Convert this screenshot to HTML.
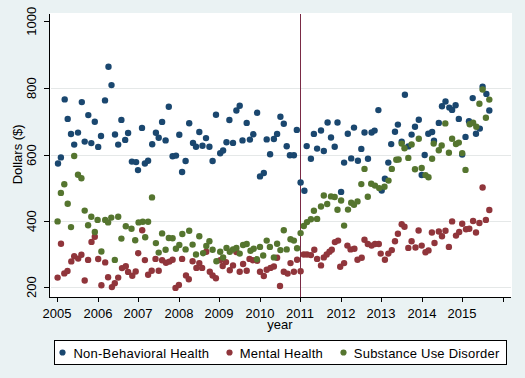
<!DOCTYPE html>
<html><head><meta charset="utf-8"><style>
html,body{margin:0;padding:0;width:525px;height:378px;overflow:hidden;background:#EAF2F3}
svg{display:block}
text{font-family:"Liberation Sans",sans-serif;font-size:13px;fill:#000}
</style></head><body>
<svg width="525" height="378" viewBox="0 0 525 378">
<rect x="0" y="0" width="525" height="378" fill="#EAF2F3"/>
<rect x="50" y="13" width="462" height="284" fill="#FFFFFF"/>
<line x1="51" x2="511" y1="88.5" y2="88.5" stroke="#E5E8E8" stroke-width="1"/>
<line x1="51" x2="511" y1="155.5" y2="155.5" stroke="#E5E8E8" stroke-width="1"/>
<line x1="51" x2="511" y1="221.5" y2="221.5" stroke="#E5E8E8" stroke-width="1"/>
<line x1="51" x2="511" y1="287.5" y2="287.5" stroke="#E5E8E8" stroke-width="1"/>
<line x1="300.5" x2="300.5" y1="14" y2="297" stroke="#7A2A45" stroke-width="1"/>
<g fill="#1A476F"><circle cx="108.5" cy="66.7" r="3.2"/>
<circle cx="111.5" cy="85.1" r="3.2"/>
<circle cx="64.7" cy="99.4" r="3.2"/>
<circle cx="81.8" cy="102.1" r="3.2"/>
<circle cx="105.0" cy="100.4" r="3.2"/>
<circle cx="67.7" cy="118.9" r="3.2"/>
<circle cx="88.3" cy="115.1" r="3.2"/>
<circle cx="94.8" cy="121.8" r="3.2"/>
<circle cx="121.4" cy="119.9" r="3.2"/>
<circle cx="142.0" cy="127.9" r="3.2"/>
<circle cx="71.0" cy="134.0" r="3.2"/>
<circle cx="78.0" cy="132.6" r="3.2"/>
<circle cx="101.0" cy="136.0" r="3.2"/>
<circle cx="115.0" cy="134.5" r="3.2"/>
<circle cx="128.1" cy="133.0" r="3.2"/>
<circle cx="74.2" cy="144.6" r="3.2"/>
<circle cx="84.7" cy="141.6" r="3.2"/>
<circle cx="91.3" cy="143.1" r="3.2"/>
<circle cx="98.2" cy="146.9" r="3.2"/>
<circle cx="118.2" cy="144.6" r="3.2"/>
<circle cx="125.2" cy="139.9" r="3.2"/>
<circle cx="60.9" cy="157.4" r="3.2"/>
<circle cx="58.0" cy="163.5" r="3.2"/>
<circle cx="131.9" cy="161.6" r="3.2"/>
<circle cx="136.1" cy="162.1" r="3.2"/>
<circle cx="138.0" cy="170.1" r="3.2"/>
<circle cx="144.9" cy="163.5" r="3.2"/>
<circle cx="148.1" cy="160.8" r="3.2"/>
<circle cx="168.8" cy="106.7" r="3.2"/>
<circle cx="239.7" cy="105.7" r="3.2"/>
<circle cx="236.4" cy="110.5" r="3.2"/>
<circle cx="216.0" cy="114.7" r="3.2"/>
<circle cx="229.4" cy="120.0" r="3.2"/>
<circle cx="162.1" cy="121.9" r="3.2"/>
<circle cx="189.2" cy="123.2" r="3.2"/>
<circle cx="155.9" cy="132.8" r="3.2"/>
<circle cx="158.7" cy="137.7" r="3.2"/>
<circle cx="165.6" cy="140.4" r="3.2"/>
<circle cx="152.2" cy="144.2" r="3.2"/>
<circle cx="179.3" cy="134.7" r="3.2"/>
<circle cx="199.3" cy="132.0" r="3.2"/>
<circle cx="206.0" cy="138.1" r="3.2"/>
<circle cx="193.0" cy="142.9" r="3.2"/>
<circle cx="196.0" cy="146.7" r="3.2"/>
<circle cx="202.5" cy="145.7" r="3.2"/>
<circle cx="209.4" cy="146.7" r="3.2"/>
<circle cx="226.5" cy="142.3" r="3.2"/>
<circle cx="233.0" cy="142.9" r="3.2"/>
<circle cx="242.5" cy="140.4" r="3.2"/>
<circle cx="220.2" cy="153.3" r="3.2"/>
<circle cx="223.1" cy="150.5" r="3.2"/>
<circle cx="172.6" cy="156.2" r="3.2"/>
<circle cx="176.0" cy="155.6" r="3.2"/>
<circle cx="185.6" cy="161.0" r="3.2"/>
<circle cx="212.6" cy="161.0" r="3.2"/>
<circle cx="182.1" cy="172.0" r="3.2"/>
<circle cx="257.1" cy="112.8" r="3.2"/>
<circle cx="246.7" cy="122.9" r="3.2"/>
<circle cx="249.9" cy="139.6" r="3.2"/>
<circle cx="253.3" cy="134.3" r="3.2"/>
<circle cx="266.7" cy="139.4" r="3.2"/>
<circle cx="273.9" cy="139.0" r="3.2"/>
<circle cx="277.1" cy="133.9" r="3.2"/>
<circle cx="280.4" cy="116.8" r="3.2"/>
<circle cx="283.8" cy="123.8" r="3.2"/>
<circle cx="296.8" cy="129.9" r="3.2"/>
<circle cx="286.7" cy="146.3" r="3.2"/>
<circle cx="270.1" cy="154.3" r="3.2"/>
<circle cx="289.9" cy="155.2" r="3.2"/>
<circle cx="293.9" cy="155.2" r="3.2"/>
<circle cx="306.7" cy="146.1" r="3.2"/>
<circle cx="310.9" cy="158.7" r="3.2"/>
<circle cx="313.9" cy="133.9" r="3.2"/>
<circle cx="321.0" cy="130.5" r="3.2"/>
<circle cx="317.1" cy="148.6" r="3.2"/>
<circle cx="323.8" cy="151.0" r="3.2"/>
<circle cx="327.6" cy="122.5" r="3.2"/>
<circle cx="331.0" cy="137.5" r="3.2"/>
<circle cx="334.7" cy="146.7" r="3.2"/>
<circle cx="337.5" cy="122.5" r="3.2"/>
<circle cx="260.0" cy="176.4" r="3.2"/>
<circle cx="263.8" cy="173.0" r="3.2"/>
<circle cx="300.6" cy="182.5" r="3.2"/>
<circle cx="304.4" cy="190.7" r="3.2"/>
<circle cx="341.1" cy="191.9" r="3.2"/>
<circle cx="404.9" cy="94.7" r="3.2"/>
<circle cx="378.4" cy="110.1" r="3.2"/>
<circle cx="354.0" cy="127.6" r="3.2"/>
<circle cx="397.9" cy="124.6" r="3.2"/>
<circle cx="418.8" cy="119.7" r="3.2"/>
<circle cx="415.0" cy="126.7" r="3.2"/>
<circle cx="347.8" cy="133.7" r="3.2"/>
<circle cx="364.5" cy="132.5" r="3.2"/>
<circle cx="371.6" cy="132.5" r="3.2"/>
<circle cx="374.6" cy="130.6" r="3.2"/>
<circle cx="395.0" cy="131.8" r="3.2"/>
<circle cx="411.6" cy="134.6" r="3.2"/>
<circle cx="428.3" cy="133.7" r="3.2"/>
<circle cx="432.1" cy="132.0" r="3.2"/>
<circle cx="361.3" cy="148.9" r="3.2"/>
<circle cx="391.2" cy="144.1" r="3.2"/>
<circle cx="401.7" cy="141.7" r="3.2"/>
<circle cx="408.3" cy="146.4" r="3.2"/>
<circle cx="344.1" cy="162.6" r="3.2"/>
<circle cx="351.2" cy="158.4" r="3.2"/>
<circle cx="357.9" cy="160.7" r="3.2"/>
<circle cx="368.0" cy="158.8" r="3.2"/>
<circle cx="388.3" cy="162.6" r="3.2"/>
<circle cx="424.7" cy="155.0" r="3.2"/>
<circle cx="384.9" cy="178.7" r="3.2"/>
<circle cx="421.7" cy="175.0" r="3.2"/>
<circle cx="434.0" cy="140.7" r="3.2"/>
<circle cx="381.7" cy="190.6" r="3.2"/>
<circle cx="482.6" cy="86.7" r="3.2"/>
<circle cx="486.4" cy="93.9" r="3.2"/>
<circle cx="472.7" cy="98.1" r="3.2"/>
<circle cx="489.3" cy="110.5" r="3.2"/>
<circle cx="445.5" cy="101.5" r="3.2"/>
<circle cx="442.0" cy="106.3" r="3.2"/>
<circle cx="449.3" cy="107.6" r="3.2"/>
<circle cx="452.1" cy="109.9" r="3.2"/>
<circle cx="455.6" cy="105.3" r="3.2"/>
<circle cx="458.8" cy="118.9" r="3.2"/>
<circle cx="438.8" cy="122.9" r="3.2"/>
<circle cx="469.0" cy="121.2" r="3.2"/>
<circle cx="479.8" cy="128.6" r="3.2"/>
<circle cx="476.0" cy="133.7" r="3.2"/>
<circle cx="465.5" cy="136.9" r="3.2"/>
<circle cx="462.2" cy="154.6" r="3.2"/></g>
<g fill="#90353B"><circle cx="142.2" cy="230.3" r="3.2"/>
<circle cx="94.8" cy="236.8" r="3.2"/>
<circle cx="91.5" cy="241.9" r="3.2"/>
<circle cx="61.0" cy="243.7" r="3.2"/>
<circle cx="57.6" cy="277.6" r="3.2"/>
<circle cx="64.3" cy="273.4" r="3.2"/>
<circle cx="67.5" cy="271.0" r="3.2"/>
<circle cx="71.3" cy="261.4" r="3.2"/>
<circle cx="74.2" cy="256.3" r="3.2"/>
<circle cx="78.2" cy="258.6" r="3.2"/>
<circle cx="81.4" cy="254.8" r="3.2"/>
<circle cx="88.1" cy="259.9" r="3.2"/>
<circle cx="84.7" cy="280.5" r="3.2"/>
<circle cx="98.2" cy="259.0" r="3.2"/>
<circle cx="105.2" cy="262.4" r="3.2"/>
<circle cx="101.4" cy="285.2" r="3.2"/>
<circle cx="108.1" cy="277.2" r="3.2"/>
<circle cx="111.9" cy="287.1" r="3.2"/>
<circle cx="114.8" cy="283.3" r="3.2"/>
<circle cx="118.2" cy="277.6" r="3.2"/>
<circle cx="122.0" cy="268.1" r="3.2"/>
<circle cx="125.8" cy="266.2" r="3.2"/>
<circle cx="128.1" cy="271.9" r="3.2"/>
<circle cx="132.3" cy="275.7" r="3.2"/>
<circle cx="135.7" cy="271.5" r="3.2"/>
<circle cx="138.2" cy="253.2" r="3.2"/>
<circle cx="144.9" cy="260.1" r="3.2"/>
<circle cx="148.1" cy="274.8" r="3.2"/>
<circle cx="155.5" cy="258.9" r="3.2"/>
<circle cx="162.1" cy="260.2" r="3.2"/>
<circle cx="166.0" cy="262.7" r="3.2"/>
<circle cx="169.4" cy="261.6" r="3.2"/>
<circle cx="172.6" cy="259.7" r="3.2"/>
<circle cx="182.1" cy="258.9" r="3.2"/>
<circle cx="151.7" cy="270.7" r="3.2"/>
<circle cx="158.7" cy="270.7" r="3.2"/>
<circle cx="186.0" cy="275.5" r="3.2"/>
<circle cx="188.8" cy="279.3" r="3.2"/>
<circle cx="175.5" cy="287.9" r="3.2"/>
<circle cx="178.9" cy="285.0" r="3.2"/>
<circle cx="192.6" cy="261.2" r="3.2"/>
<circle cx="199.3" cy="263.1" r="3.2"/>
<circle cx="196.4" cy="267.9" r="3.2"/>
<circle cx="202.1" cy="267.9" r="3.2"/>
<circle cx="206.3" cy="251.7" r="3.2"/>
<circle cx="209.8" cy="271.7" r="3.2"/>
<circle cx="212.6" cy="275.5" r="3.2"/>
<circle cx="215.9" cy="278.3" r="3.2"/>
<circle cx="220.2" cy="260.2" r="3.2"/>
<circle cx="226.0" cy="262.1" r="3.2"/>
<circle cx="222.7" cy="266.0" r="3.2"/>
<circle cx="229.8" cy="270.3" r="3.2"/>
<circle cx="233.0" cy="265.4" r="3.2"/>
<circle cx="236.4" cy="252.0" r="3.2"/>
<circle cx="239.7" cy="271.7" r="3.2"/>
<circle cx="243.1" cy="264.0" r="3.2"/>
<circle cx="246.7" cy="270.7" r="3.2"/>
<circle cx="249.5" cy="258.9" r="3.2"/>
<circle cx="253.0" cy="260.2" r="3.2"/>
<circle cx="257.1" cy="260.8" r="3.2"/>
<circle cx="260.0" cy="271.7" r="3.2"/>
<circle cx="263.8" cy="276.0" r="3.2"/>
<circle cx="266.7" cy="269.8" r="3.2"/>
<circle cx="270.5" cy="267.9" r="3.2"/>
<circle cx="273.9" cy="266.5" r="3.2"/>
<circle cx="277.1" cy="257.8" r="3.2"/>
<circle cx="280.0" cy="286.0" r="3.2"/>
<circle cx="283.8" cy="271.7" r="3.2"/>
<circle cx="287.6" cy="273.6" r="3.2"/>
<circle cx="290.5" cy="263.1" r="3.2"/>
<circle cx="293.9" cy="271.7" r="3.2"/>
<circle cx="297.1" cy="259.7" r="3.2"/>
<circle cx="300.6" cy="271.3" r="3.2"/>
<circle cx="303.8" cy="254.5" r="3.2"/>
<circle cx="307.0" cy="254.5" r="3.2"/>
<circle cx="310.9" cy="255.1" r="3.2"/>
<circle cx="314.3" cy="249.8" r="3.2"/>
<circle cx="317.1" cy="258.9" r="3.2"/>
<circle cx="321.0" cy="265.4" r="3.2"/>
<circle cx="323.8" cy="257.4" r="3.2"/>
<circle cx="326.7" cy="254.5" r="3.2"/>
<circle cx="329.5" cy="251.7" r="3.2"/>
<circle cx="331.8" cy="249.8" r="3.2"/>
<circle cx="334.9" cy="242.1" r="3.2"/>
<circle cx="338.1" cy="240.6" r="3.2"/>
<circle cx="340.2" cy="266.7" r="3.2"/>
<circle cx="401.7" cy="224.3" r="3.2"/>
<circle cx="404.5" cy="226.8" r="3.2"/>
<circle cx="397.9" cy="233.7" r="3.2"/>
<circle cx="418.6" cy="230.5" r="3.2"/>
<circle cx="431.9" cy="232.5" r="3.2"/>
<circle cx="364.5" cy="239.7" r="3.2"/>
<circle cx="347.4" cy="245.6" r="3.2"/>
<circle cx="350.6" cy="249.4" r="3.2"/>
<circle cx="354.4" cy="248.8" r="3.2"/>
<circle cx="344.1" cy="263.1" r="3.2"/>
<circle cx="357.5" cy="259.7" r="3.2"/>
<circle cx="361.7" cy="257.8" r="3.2"/>
<circle cx="367.8" cy="244.0" r="3.2"/>
<circle cx="371.6" cy="245.6" r="3.2"/>
<circle cx="375.0" cy="244.0" r="3.2"/>
<circle cx="378.8" cy="244.0" r="3.2"/>
<circle cx="380.7" cy="253.6" r="3.2"/>
<circle cx="384.9" cy="259.7" r="3.2"/>
<circle cx="388.3" cy="253.6" r="3.2"/>
<circle cx="391.8" cy="250.1" r="3.2"/>
<circle cx="395.0" cy="241.2" r="3.2"/>
<circle cx="408.3" cy="247.9" r="3.2"/>
<circle cx="411.6" cy="241.2" r="3.2"/>
<circle cx="415.5" cy="247.5" r="3.2"/>
<circle cx="421.7" cy="245.6" r="3.2"/>
<circle cx="425.5" cy="252.3" r="3.2"/>
<circle cx="428.5" cy="250.4" r="3.2"/>
<circle cx="434.5" cy="243.0" r="3.2"/>
<circle cx="482.6" cy="187.5" r="3.2"/>
<circle cx="489.3" cy="210.0" r="3.2"/>
<circle cx="485.9" cy="219.9" r="3.2"/>
<circle cx="479.4" cy="223.0" r="3.2"/>
<circle cx="473.1" cy="221.0" r="3.2"/>
<circle cx="452.1" cy="221.4" r="3.2"/>
<circle cx="462.2" cy="223.7" r="3.2"/>
<circle cx="466.0" cy="229.3" r="3.2"/>
<circle cx="469.3" cy="228.7" r="3.2"/>
<circle cx="476.0" cy="232.5" r="3.2"/>
<circle cx="438.8" cy="231.5" r="3.2"/>
<circle cx="442.0" cy="236.3" r="3.2"/>
<circle cx="445.5" cy="230.8" r="3.2"/>
<circle cx="456.0" cy="235.6" r="3.2"/>
<circle cx="459.2" cy="232.0" r="3.2"/>
<circle cx="448.9" cy="246.9" r="3.2"/></g>
<g fill="#55752F"><circle cx="74.2" cy="156.0" r="3.2"/>
<circle cx="78.0" cy="174.8" r="3.2"/>
<circle cx="81.4" cy="178.2" r="3.2"/>
<circle cx="64.3" cy="184.3" r="3.2"/>
<circle cx="60.9" cy="192.9" r="3.2"/>
<circle cx="67.7" cy="203.7" r="3.2"/>
<circle cx="84.7" cy="210.6" r="3.2"/>
<circle cx="91.3" cy="216.7" r="3.2"/>
<circle cx="57.6" cy="221.4" r="3.2"/>
<circle cx="71.0" cy="227.1" r="3.2"/>
<circle cx="88.1" cy="225.2" r="3.2"/>
<circle cx="97.6" cy="219.9" r="3.2"/>
<circle cx="105.2" cy="219.9" r="3.2"/>
<circle cx="108.1" cy="222.4" r="3.2"/>
<circle cx="111.3" cy="217.6" r="3.2"/>
<circle cx="118.2" cy="216.7" r="3.2"/>
<circle cx="94.8" cy="232.0" r="3.2"/>
<circle cx="125.8" cy="226.2" r="3.2"/>
<circle cx="131.5" cy="228.7" r="3.2"/>
<circle cx="138.6" cy="222.4" r="3.2"/>
<circle cx="142.8" cy="221.8" r="3.2"/>
<circle cx="148.1" cy="221.8" r="3.2"/>
<circle cx="121.4" cy="238.6" r="3.2"/>
<circle cx="135.2" cy="240.3" r="3.2"/>
<circle cx="145.2" cy="237.2" r="3.2"/>
<circle cx="101.4" cy="251.5" r="3.2"/>
<circle cx="114.8" cy="259.9" r="3.2"/>
<circle cx="152.0" cy="197.4" r="3.2"/>
<circle cx="162.1" cy="233.4" r="3.2"/>
<circle cx="168.8" cy="238.0" r="3.2"/>
<circle cx="172.6" cy="238.3" r="3.2"/>
<circle cx="182.3" cy="234.0" r="3.2"/>
<circle cx="189.2" cy="230.7" r="3.2"/>
<circle cx="199.3" cy="236.3" r="3.2"/>
<circle cx="155.9" cy="243.1" r="3.2"/>
<circle cx="158.7" cy="252.6" r="3.2"/>
<circle cx="165.6" cy="249.8" r="3.2"/>
<circle cx="175.9" cy="248.8" r="3.2"/>
<circle cx="179.3" cy="245.0" r="3.2"/>
<circle cx="185.6" cy="249.4" r="3.2"/>
<circle cx="192.6" cy="244.6" r="3.2"/>
<circle cx="196.0" cy="254.5" r="3.2"/>
<circle cx="203.1" cy="253.2" r="3.2"/>
<circle cx="206.3" cy="246.0" r="3.2"/>
<circle cx="209.4" cy="241.2" r="3.2"/>
<circle cx="212.6" cy="249.8" r="3.2"/>
<circle cx="220.2" cy="251.7" r="3.2"/>
<circle cx="216.4" cy="261.2" r="3.2"/>
<circle cx="223.1" cy="257.4" r="3.2"/>
<circle cx="226.5" cy="247.9" r="3.2"/>
<circle cx="229.8" cy="251.7" r="3.2"/>
<circle cx="233.0" cy="249.4" r="3.2"/>
<circle cx="236.4" cy="247.9" r="3.2"/>
<circle cx="239.7" cy="253.6" r="3.2"/>
<circle cx="243.1" cy="245.0" r="3.2"/>
<circle cx="246.7" cy="244.0" r="3.2"/>
<circle cx="250.5" cy="250.7" r="3.2"/>
<circle cx="253.7" cy="248.8" r="3.2"/>
<circle cx="256.8" cy="259.3" r="3.2"/>
<circle cx="260.0" cy="246.9" r="3.2"/>
<circle cx="263.2" cy="255.5" r="3.2"/>
<circle cx="266.7" cy="240.6" r="3.2"/>
<circle cx="269.9" cy="246.9" r="3.2"/>
<circle cx="273.9" cy="257.4" r="3.2"/>
<circle cx="277.1" cy="243.7" r="3.2"/>
<circle cx="280.4" cy="250.1" r="3.2"/>
<circle cx="286.7" cy="249.4" r="3.2"/>
<circle cx="290.5" cy="239.3" r="3.2"/>
<circle cx="293.9" cy="240.6" r="3.2"/>
<circle cx="297.1" cy="248.2" r="3.2"/>
<circle cx="283.8" cy="230.3" r="3.2"/>
<circle cx="300.6" cy="233.1" r="3.2"/>
<circle cx="303.8" cy="226.0" r="3.2"/>
<circle cx="307.0" cy="222.1" r="3.2"/>
<circle cx="310.9" cy="219.3" r="3.2"/>
<circle cx="317.1" cy="218.9" r="3.2"/>
<circle cx="313.9" cy="210.7" r="3.2"/>
<circle cx="321.0" cy="206.5" r="3.2"/>
<circle cx="327.2" cy="204.0" r="3.2"/>
<circle cx="323.8" cy="195.5" r="3.2"/>
<circle cx="331.0" cy="196.4" r="3.2"/>
<circle cx="334.7" cy="197.0" r="3.2"/>
<circle cx="337.5" cy="209.8" r="3.2"/>
<circle cx="401.7" cy="143.6" r="3.2"/>
<circle cx="404.5" cy="148.3" r="3.2"/>
<circle cx="411.6" cy="144.5" r="3.2"/>
<circle cx="418.8" cy="138.8" r="3.2"/>
<circle cx="433.7" cy="143.6" r="3.2"/>
<circle cx="396.3" cy="159.8" r="3.2"/>
<circle cx="398.6" cy="159.5" r="3.2"/>
<circle cx="408.3" cy="157.9" r="3.2"/>
<circle cx="432.1" cy="158.8" r="3.2"/>
<circle cx="364.5" cy="168.9" r="3.2"/>
<circle cx="391.8" cy="168.9" r="3.2"/>
<circle cx="415.0" cy="169.3" r="3.2"/>
<circle cx="421.7" cy="168.0" r="3.2"/>
<circle cx="425.5" cy="175.1" r="3.2"/>
<circle cx="428.5" cy="177.2" r="3.2"/>
<circle cx="388.5" cy="180.6" r="3.2"/>
<circle cx="361.3" cy="184.1" r="3.2"/>
<circle cx="371.2" cy="183.8" r="3.2"/>
<circle cx="375.0" cy="185.6" r="3.2"/>
<circle cx="379.2" cy="188.1" r="3.2"/>
<circle cx="384.5" cy="186.8" r="3.2"/>
<circle cx="341.1" cy="200.5" r="3.2"/>
<circle cx="351.2" cy="202.8" r="3.2"/>
<circle cx="354.0" cy="204.7" r="3.2"/>
<circle cx="357.5" cy="201.4" r="3.2"/>
<circle cx="367.8" cy="196.7" r="3.2"/>
<circle cx="348.0" cy="209.6" r="3.2"/>
<circle cx="344.1" cy="225.6" r="3.2"/>
<circle cx="482.6" cy="89.5" r="3.2"/>
<circle cx="489.3" cy="99.6" r="3.2"/>
<circle cx="479.4" cy="103.8" r="3.2"/>
<circle cx="485.9" cy="117.7" r="3.2"/>
<circle cx="445.3" cy="123.4" r="3.2"/>
<circle cx="469.7" cy="124.2" r="3.2"/>
<circle cx="473.1" cy="122.8" r="3.2"/>
<circle cx="476.3" cy="126.8" r="3.2"/>
<circle cx="441.7" cy="145.5" r="3.2"/>
<circle cx="438.8" cy="150.2" r="3.2"/>
<circle cx="452.1" cy="138.8" r="3.2"/>
<circle cx="456.0" cy="144.0" r="3.2"/>
<circle cx="458.8" cy="142.6" r="3.2"/>
<circle cx="448.9" cy="152.7" r="3.2"/>
<circle cx="462.2" cy="153.1" r="3.2"/>
<circle cx="465.5" cy="169.9" r="3.2"/></g>
<line x1="49.5" x2="49.5" y1="14" y2="297.5" stroke="#000" stroke-width="1"/>
<line x1="49" x2="511" y1="297.5" y2="297.5" stroke="#000" stroke-width="1"/>
<line x1="44" x2="49" y1="21.5" y2="21.5" stroke="#000" stroke-width="1"/>
<text x="0" y="0" transform="translate(36.2,21.2) rotate(-90)" text-anchor="middle">1000</text>
<line x1="44" x2="49" y1="88.5" y2="88.5" stroke="#000" stroke-width="1"/>
<text x="0" y="0" transform="translate(36.2,88.2) rotate(-90)" text-anchor="middle">800</text>
<line x1="44" x2="49" y1="155.5" y2="155.5" stroke="#000" stroke-width="1"/>
<text x="0" y="0" transform="translate(36.2,155.2) rotate(-90)" text-anchor="middle">600</text>
<line x1="44" x2="49" y1="221.5" y2="221.5" stroke="#000" stroke-width="1"/>
<text x="0" y="0" transform="translate(36.2,221.2) rotate(-90)" text-anchor="middle">400</text>
<line x1="44" x2="49" y1="287.5" y2="287.5" stroke="#000" stroke-width="1"/>
<text x="0" y="0" transform="translate(36.2,287.2) rotate(-90)" text-anchor="middle">200</text>
<line x1="57.5" x2="57.5" y1="297" y2="302" stroke="#000" stroke-width="1"/>
<text x="57.0" y="317.5" text-anchor="middle">2005</text>
<line x1="98.5" x2="98.5" y1="297" y2="302" stroke="#000" stroke-width="1"/>
<text x="98.0" y="317.5" text-anchor="middle">2006</text>
<line x1="138.5" x2="138.5" y1="297" y2="302" stroke="#000" stroke-width="1"/>
<text x="138.0" y="317.5" text-anchor="middle">2007</text>
<line x1="179.5" x2="179.5" y1="297" y2="302" stroke="#000" stroke-width="1"/>
<text x="179.0" y="317.5" text-anchor="middle">2008</text>
<line x1="219.5" x2="219.5" y1="297" y2="302" stroke="#000" stroke-width="1"/>
<text x="219.0" y="317.5" text-anchor="middle">2009</text>
<line x1="260.5" x2="260.5" y1="297" y2="302" stroke="#000" stroke-width="1"/>
<text x="260.0" y="317.5" text-anchor="middle">2010</text>
<line x1="300.5" x2="300.5" y1="297" y2="302" stroke="#000" stroke-width="1"/>
<text x="300.0" y="317.5" text-anchor="middle">2011</text>
<line x1="341.5" x2="341.5" y1="297" y2="302" stroke="#000" stroke-width="1"/>
<text x="341.0" y="317.5" text-anchor="middle">2012</text>
<line x1="381.5" x2="381.5" y1="297" y2="302" stroke="#000" stroke-width="1"/>
<text x="381.0" y="317.5" text-anchor="middle">2013</text>
<line x1="422.5" x2="422.5" y1="297" y2="302" stroke="#000" stroke-width="1"/>
<text x="422.0" y="317.5" text-anchor="middle">2014</text>
<line x1="462.5" x2="462.5" y1="297" y2="302" stroke="#000" stroke-width="1"/>
<text x="462.0" y="317.5" text-anchor="middle">2015</text>
<line x1="503.5" x2="503.5" y1="297" y2="302" stroke="#000" stroke-width="1"/>
<text x="280" y="328.5" text-anchor="middle">year</text>
<text x="0" y="0" transform="translate(22.4,154.3) rotate(-90)" text-anchor="middle">Dollars ($)</text>
<rect x="54.5" y="340.5" width="452" height="24" fill="#FFFFFF" stroke="#000" stroke-width="1"/>
<circle cx="62.5" cy="352.5" r="3.1" fill="#1A476F"/>
<text x="73.5" y="357.5" textLength="135.5" lengthAdjust="spacing">Non-Behavioral Health</text>
<circle cx="229.5" cy="352.5" r="3.1" fill="#90353B"/>
<text x="239.8" y="357.5" textLength="83" lengthAdjust="spacing">Mental Health</text>
<circle cx="343.5" cy="352.5" r="3.1" fill="#55752F"/>
<text x="353.8" y="357.5" textLength="145.5" lengthAdjust="spacing">Substance Use Disorder</text>
</svg>
</body></html>
